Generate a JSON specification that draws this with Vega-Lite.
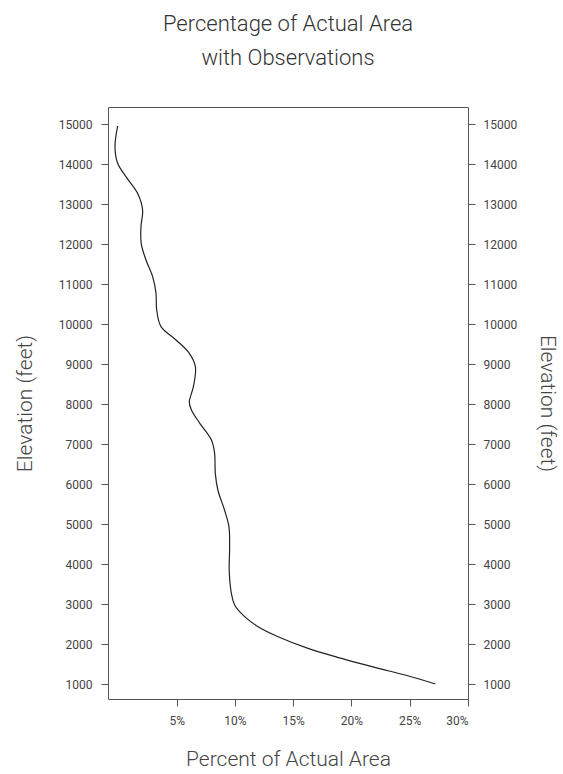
{
  "$schema": "https://vega.github.io/schema/vega-lite/v6.json",
  "width": 360,
  "height": 592,
  "autosize": "none",
  "padding": {"left": 108, "top": 107, "right": 95, "bottom": 75},
  "background": "white",
  "title": {
    "text": ["Percentage of Actual Area", "with Observations"],
    "anchor": "middle",
    "font": "Roboto",
    "fontWeight": 300,
    "fontSize": 22,
    "lineHeight": 34,
    "color": "#333333",
    "offset": 37
  },
  "config": {
    "view": {"stroke": "#555555", "strokeWidth": 1},
    "axis": {
      "domain": false,
      "grid": false,
      "tickColor": "#555555",
      "tickSize": 7,
      "labelFont": "Roboto",
      "labelFontSize": 12,
      "labelColor": "#444444",
      "titleFont": "Roboto",
      "titleFontWeight": 300,
      "titleFontSize": 21,
      "titleColor": "#444444"
    }
  },
  "data": {
    "values": [
      {"pct": -0.07, "elev": 14950},
      {"pct": -0.3, "elev": 14433},
      {"pct": -0.07, "elev": 14017},
      {"pct": 0.64, "elev": 13683},
      {"pct": 1.64, "elev": 13267},
      {"pct": 2.07, "elev": 12850},
      {"pct": 1.93, "elev": 12433},
      {"pct": 1.95, "elev": 12017},
      {"pct": 2.36, "elev": 11600},
      {"pct": 2.93, "elev": 11183},
      {"pct": 3.22, "elev": 10767},
      {"pct": 3.28, "elev": 10350},
      {"pct": 3.65, "elev": 9933},
      {"pct": 4.94, "elev": 9600},
      {"pct": 6.08, "elev": 9267},
      {"pct": 6.6, "elev": 8933},
      {"pct": 6.43, "elev": 8433},
      {"pct": 6.08, "elev": 8050},
      {"pct": 6.26, "elev": 7850},
      {"pct": 6.98, "elev": 7517},
      {"pct": 7.98, "elev": 7100},
      {"pct": 8.25, "elev": 6767},
      {"pct": 8.31, "elev": 6267},
      {"pct": 8.53, "elev": 5850},
      {"pct": 9.1, "elev": 5350},
      {"pct": 9.48, "elev": 4933},
      {"pct": 9.54, "elev": 4433},
      {"pct": 9.5, "elev": 3900},
      {"pct": 9.55, "elev": 3600},
      {"pct": 9.69, "elev": 3267},
      {"pct": 9.97, "elev": 2975},
      {"pct": 10.83, "elev": 2683},
      {"pct": 11.98, "elev": 2433},
      {"pct": 13.7, "elev": 2183},
      {"pct": 16.27, "elev": 1892},
      {"pct": 19.14, "elev": 1642},
      {"pct": 22.0, "elev": 1417},
      {"pct": 24.9, "elev": 1200},
      {"pct": 27.2, "elev": 1000}
    ]
  },
  "layer": [
    {
      "mark": {"type": "line", "interpolate": "catmull-rom", "color": "#222222", "strokeWidth": 1.2},
      "encoding": {
        "x": {
          "field": "pct", "type": "quantitative",
          "scale": {"domain": [-0.9, 30], "nice": false, "zero": false},
          "axis": {
            "values": [5, 10, 15, 20, 25, 30],
            "labelExpr": "datum.value + '%'",
            "labelPadding": 9,
            "title": "Percent of Actual Area",
            "titlePadding": 22
          }
        },
        "y": {
          "field": "elev", "type": "quantitative",
          "scale": {"domain": [625, 15425], "nice": false, "zero": false},
          "axis": {
            "orient": "left",
            "values": [1000, 2000, 3000, 4000, 5000, 6000, 7000, 8000, 9000, 10000, 11000, 12000, 13000, 14000, 15000],
            "format": "d",
            "labelPadding": 9,
            "title": "Elevation (feet)",
            "titlePadding": 23
          }
        },
        "order": {"field": "elev", "type": "quantitative", "sort": "descending"}
      }
    },
    {
      "mark": {"type": "line", "interpolate": "catmull-rom", "strokeOpacity": 0},
      "encoding": {
        "x": {"field": "pct", "type": "quantitative"},
        "y": {
          "field": "elev", "type": "quantitative",
          "axis": {
            "orient": "right",
            "values": [1000, 2000, 3000, 4000, 5000, 6000, 7000, 8000, 9000, 10000, 11000, 12000, 13000, 14000, 15000],
            "format": "d",
            "labelPadding": 8,
            "title": "Elevation (feet)",
            "titlePadding": 20
          }
        },
        "order": {"field": "elev", "type": "quantitative", "sort": "descending"}
      }
    }
  ],
  "resolve": {"axis": {"y": "independent"}}
}
